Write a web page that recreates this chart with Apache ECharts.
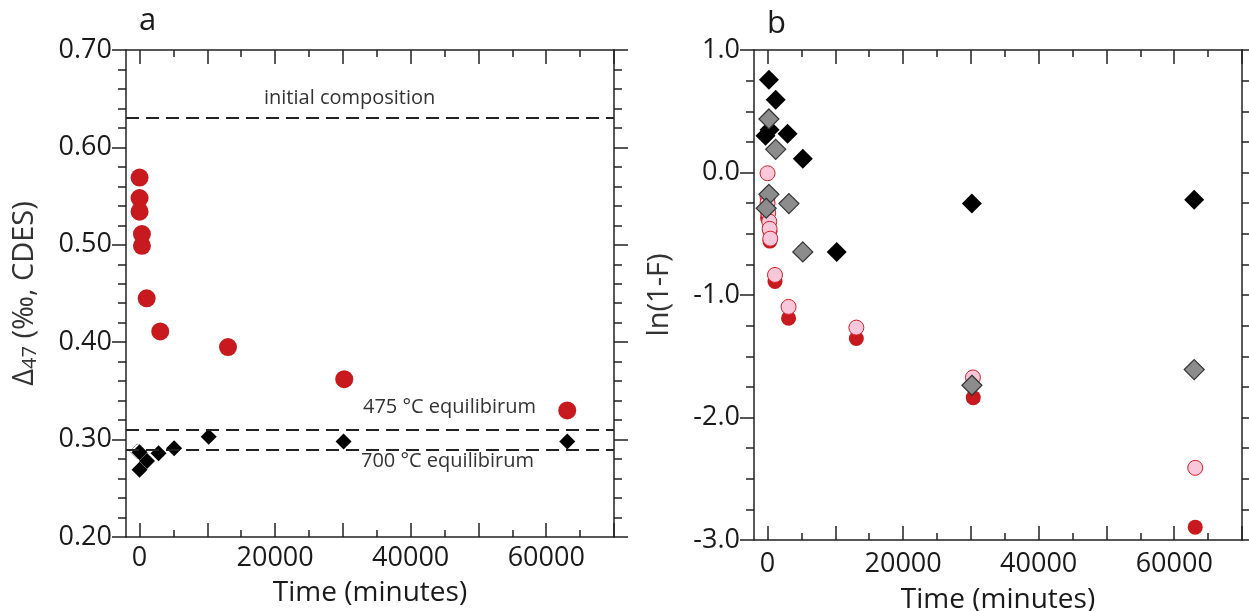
<!DOCTYPE html>
<html>
<head>
<meta charset="utf-8">
<script src="https://cdn.jsdelivr.net/npm/echarts@6/dist/echarts.min.js"></script>
<style>
  html, body { margin: 0; padding: 0; background: #fff; }
  #main { width: 1249px; height: 611px; }
</style>
</head>
<body>
<div id="main"></div>
<script>
// panel a : Δ47 vs time
var aRedTime  = [0, 0, 0, 350, 350, 1050, 3050, 13050, 30200, 63100];
var aRedD47   = [0.569, 0.548, 0.534, 0.511, 0.499, 0.445, 0.411, 0.395, 0.362, 0.330];
var aBlackTime = [0, 0, 1100, 2800, 5100, 10200, 30100, 63100];
var aBlackD47  = [0.287, 0.269, 0.278, 0.286, 0.291, 0.303, 0.298, 0.298];
var aHollowTime = [-350];
var aHollowD47  = [0.288];
var refNames  = ['initial composition', '475 °C equilibirum', '700 °C equilibirum'];
var refValues = [0.632, 0.313, 0.290];

// panel b : ln(1-F) vs time
var bBlackTime = [200, 1200, 300, -300, 2950, 5200, 10200, 30150, 62950];
var bBlackLn   = [0.758, 0.593, 0.350, 0.300, 0.316, 0.112, -0.648, -0.254, -0.222];
var bGreyTime  = [200, 1200, 200, -200, 3150, 5200, 30150, 62950];
var bGreyLn    = [0.437, 0.189, -0.178, -0.292, -0.254, -0.648, -1.737, -1.609];
var bPinkTime  = [0, 0, 0, 100, 250, 300, 400, 1100, 3100, 13100, 30300, 63100];
var bPinkLn    = [-0.006, -0.20, -0.25, -0.33, -0.40, -0.46, -0.54, -0.836, -1.097, -1.266, -1.673, -2.411];
var bRedTime   = [0, 0, 0, 350, 350, 1100, 3100, 13100, 30350, 63100];
var bRedLn     = [-0.22, -0.31, -0.37, -0.48, -0.56, -0.89, -1.19, -1.355, -1.838, -2.895];

var timeMajor = [0, 10000, 20000, 30000, 40000, 50000, 60000, 70000];
var timeMinor = [5000, 15000, 25000, 35000, 45000, 55000, 65000];
var timeLabels = [0, 20000, 40000, 60000];

var FONT = '"Open Sans", "DejaVu Sans", sans-serif';
var INK = '#1a1a1a';

function zip(xs, ys) {
	return xs.map(function (x, i) { return [x, ys[i]]; });
}

// one x axis = one row of ticks (major or minor) on one side
function timeAxis(grid, pos, ticks, len, labels, name) {
	return {
		type: 'value',
		gridIndex: grid,
		position: pos,
		min: -2000,
		max: 70000,
		name: name || '',
		nameLocation: 'middle',
		nameGap: grid === 0 ? 42 : 46,
		nameTextStyle: { fontFamily: FONT, fontSize: 28, color: INK },
		axisLine: { show: len > 10, onZero: false, lineStyle: { color: '#222', width: 1.5 } },
		axisTick: { show: true, inside: true, length: len, customValues: ticks, lineStyle: { color: '#222', width: 1.5 } },
		axisLabel: labels ? {
			show: true, customValues: labels, margin: grid === 0 ? 8 : 11,
			fontFamily: FONT, fontSize: 27, color: INK,
			formatter: function (v) { return String(v); }
		} : { show: false },
		splitLine: { show: false }
	};
}

function valueAxis(grid, pos, min, max, interval, minorSplit, digits, name, nameGap) {
	return {
		type: 'value',
		gridIndex: grid,
		position: pos,
		min: min,
		max: max,
		interval: interval,
		name: name || '',
		nameLocation: 'middle',
		nameGap: nameGap || 0,
		nameTextStyle: {
			fontFamily: FONT, fontSize: 29, color: '#333',
			rich: {
				d: { fontFamily: FONT, fontSize: 29, color: '#333', lineHeight: 32, verticalAlign: 'top' },
				s: { fontFamily: FONT, fontSize: 20, color: '#333', lineHeight: 32, verticalAlign: 'top', padding: [10, 0, 0, 0] }
			}
		},
		axisLine: { show: true, onZero: false, lineStyle: { color: '#222', width: 1.5 } },
		axisTick: { show: true, inside: false, length: 14, lineStyle: { color: '#222', width: 1.5 } },
		minorTick: { show: true, splitNumber: minorSplit, length: 8, lineStyle: { color: '#222', width: 1.5 } },
		axisLabel: pos === 'left' ? {
			show: true, margin: 14, fontFamily: FONT, fontSize: 27, color: INK,
			formatter: function (v) { return v.toFixed(digits); }
		} : { show: false },
		splitLine: { show: false },
		minorSplitLine: { show: false }
	};
}

var chart = echarts.init(document.getElementById('main'));
chart.setOption({
	backgroundColor: '#fff',
	animation: false,
	grid: [
		{ left: 126, top: 50, width: 488, height: 487, outerBoundsMode: 'none', containLabel: false },
		{ left: 754, top: 50, width: 488, height: 490, outerBoundsMode: 'none', containLabel: false }
	],
	xAxis: [
		timeAxis(0, 'bottom', timeMajor, 14, timeLabels, 'Time (minutes)'),
		timeAxis(0, 'bottom', timeMinor, 7),
		timeAxis(0, 'top', timeMajor, 14),
		timeAxis(0, 'top', timeMinor, 7),
		timeAxis(1, 'bottom', timeMajor, 14, timeLabels, 'Time (minutes)'),
		timeAxis(1, 'bottom', timeMinor, 7),
		timeAxis(1, 'top', timeMajor, 14),
		timeAxis(1, 'top', timeMinor, 7)
	],
	yAxis: [
		valueAxis(0, 'left', 0.2, 0.7, 0.1, 5, 2, '{d|Δ}{s|47}{d| (‰, CDES)}', 84),
		valueAxis(0, 'right', 0.2, 0.7, 0.1, 5, 2),
		valueAxis(1, 'left', -3, 1, 1, 4, 1, 'ln(1-F)', 80),
		valueAxis(1, 'right', -3, 1, 1, 4, 1)
	],
	series: [
		{
			name: 'a hollow', type: 'scatter', xAxisIndex: 0, yAxisIndex: 0,
			symbol: 'diamond', symbolSize: 15,
			itemStyle: { color: '#fff', borderColor: '#999', borderWidth: 1, opacity: 1 },
			data: zip(aHollowTime, aHollowD47)
		},
		{
			name: 'a 700', type: 'scatter', xAxisIndex: 0, yAxisIndex: 0,
			symbol: 'diamond', symbolSize: 16,
			itemStyle: { color: '#000', opacity: 1 },
			data: zip(aBlackTime, aBlackD47)
		},
		{
			name: 'a 475', type: 'scatter', xAxisIndex: 0, yAxisIndex: 0,
			symbol: 'circle', symbolSize: 18,
			itemStyle: { color: '#c8191f', opacity: 1 },
			data: zip(aRedTime, aRedD47),
			markLine: {
				silent: true,
				symbol: 'none',
				label: { show: false },
				lineStyle: { color: '#222', width: 2, type: [13, 7] },
				data: refValues.map(function (v, i) { return { name: refNames[i], yAxis: v }; })
			}
		},
		{
			name: 'b red', type: 'scatter', xAxisIndex: 4, yAxisIndex: 2,
			symbol: 'circle', symbolSize: 15,
			itemStyle: { color: '#c8191f', opacity: 1 },
			data: zip(bRedTime, bRedLn)
		},
		{
			name: 'b pink', type: 'scatter', xAxisIndex: 4, yAxisIndex: 2,
			symbol: 'circle', symbolSize: 15,
			itemStyle: { color: '#f8c8da', borderColor: '#d3202a', borderWidth: 1, opacity: 1 },
			data: zip(bPinkTime, bPinkLn)
		},
		{
			name: 'b black', type: 'scatter', xAxisIndex: 4, yAxisIndex: 2,
			symbol: 'diamond', symbolSize: 20,
			itemStyle: { color: '#000', opacity: 1 },
			data: zip(bBlackTime, bBlackLn)
		},
		{
			name: 'b grey', type: 'scatter', xAxisIndex: 4, yAxisIndex: 2,
			symbol: 'diamond', symbolSize: 20,
			itemStyle: { color: '#8c8c8c', borderColor: '#333', borderWidth: 1.2, opacity: 1 },
			data: zip(bGreyTime, bGreyLn)
		}
	],
	graphic: [
		{ type: 'text', left: 139, top: 6, style: { text: 'a', font: '31px ' + FONT, fill: INK } },
		{ type: 'text', left: 767, top: 9, style: { text: 'b', font: '31px ' + FONT, fill: INK } },
		{ type: 'text', left: 264, top: 88, style: { text: refNames[0], font: '20px ' + FONT, fill: '#333' } },
		{ type: 'text', left: 363, top: 397, style: { text: refNames[1], font: '20px ' + FONT, fill: '#333' } },
		{ type: 'text', left: 361, top: 451, style: { text: refNames[2], font: '20px ' + FONT, fill: '#333' } }
	]
});
</script>
</body>
</html>
